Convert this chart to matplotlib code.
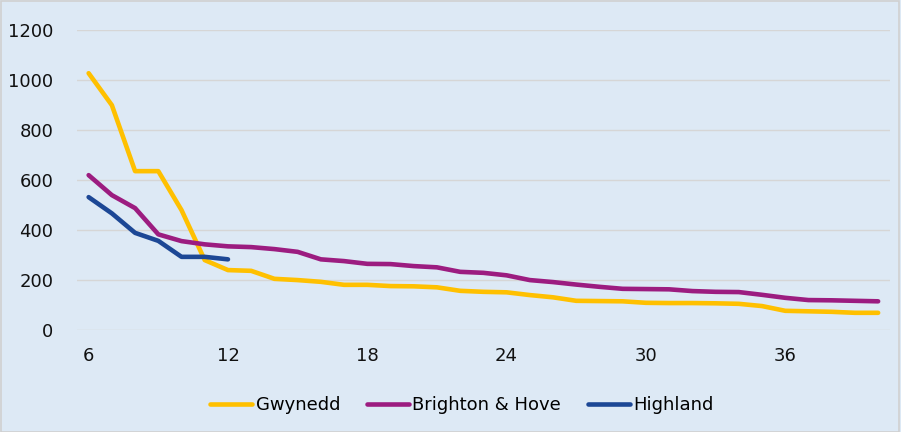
import matplotlib.pyplot as plt
from matplotlib.patches import Rectangle

# values
x_gwynedd = list(range(6, 41))
gwynedd = [1028, 900, 636, 636, 480, 280, 240, 237, 205, 200, 193, 181, 181, 176, 175,
           171, 157, 153, 151, 140, 131, 117, 116, 115, 109, 108, 108, 107, 105, 96,
           77, 75, 73, 69, 69]
x_brighton = list(range(6, 41))
brighton = [620, 540, 488, 383, 356, 343, 335, 332, 324, 313, 283, 276, 265, 264, 256,
            251, 233, 229, 219, 200, 192, 182, 173, 165, 164, 163, 156, 153, 152, 141,
            129, 120, 119, 117, 115]
x_highland = list(range(6, 13))
highland = [532, 467, 389, 357, 293, 293, 283]

xticks = [6, 12, 18, 24, 30, 36]
yticks = [0, 200, 400, 600, 800, 1000, 1200]

bg = '#dde9f5'
plt.rcParams['font.family'] = ['DejaVu Sans']

fig = plt.figure(figsize=(9.01, 4.32), dpi=100, facecolor=bg)
fig.patches.append(Rectangle((0.001, 0.001), 0.997, 0.996, transform=fig.transFigure,
                             fill=False, edgecolor='#d0d0d0', lw=1.2))
ax = fig.add_axes([0.0855, 0.236, 0.902, 0.694])
ax.set_facecolor(bg)

ax.plot(x_gwynedd, gwynedd, color='#ffc000', lw=3.3, solid_capstyle='round', label='Gwynedd')
ax.plot(x_brighton, brighton, color='#9c1c80', lw=3.3, solid_capstyle='round', label='Brighton & Hove')
ax.plot(x_highland, highland, color='#1c4795', lw=3.3, solid_capstyle='round', label='Highland')

ax.set_xlim(5.5, 40.5)
ax.set_ylim(0, 1200)
ax.set_yticks(yticks)
ax.set_xticks(xticks)
ax.grid(axis='y', color='#d6d6d6', lw=1)
ax.set_axisbelow(True)
for s in ax.spines.values():
    s.set_visible(False)
ax.tick_params(length=0, labelsize=13, colors='#111111')
ax.tick_params(axis='y', pad=17)
ax.tick_params(axis='x', pad=12)

leg = fig.legend(loc='center', bbox_to_anchor=(462 / 901, 1 - 405 / 432), ncol=3,
                 frameon=False, fontsize=13, handlelength=2.3, handletextpad=0.2,
                 columnspacing=1.5)

fig.savefig('out.png', dpi=100, facecolor=bg)
